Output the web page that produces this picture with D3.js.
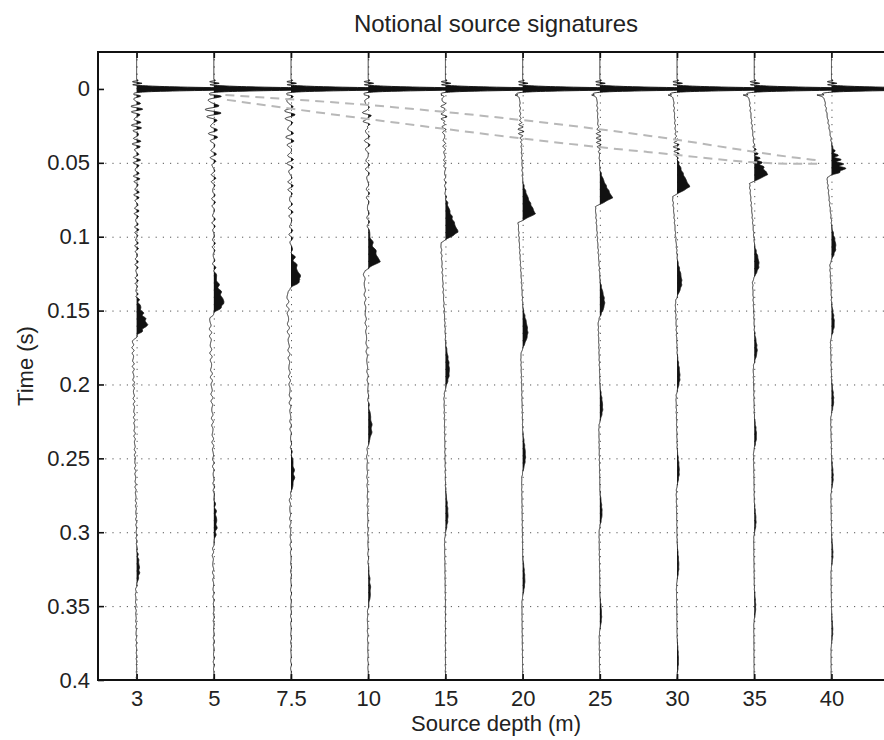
<!DOCTYPE html>
<html>
<head>
<meta charset="utf-8">
<script src="https://cdn.jsdelivr.net/npm/d3@7"></script>
<style>
  body { margin: 0; background: #fff; }
  svg text { font-family: "Liberation Sans", Arial, Helvetica, sans-serif; fill: #222; }
</style>
</head>
<body>
<div id="chart"></div>
<script>
// Source depths (m), one trace per depth
const depths = [3, 5, 7.5, 10, 15, 20, 25, 30, 35, 40];

// Bubble pulse arrival times (s)
const bubbleTimes = [
  [0.1595, 0.326],
  [0.1455, 0.295],
  [0.129, 0.262],
  [0.117, 0.230, 0.340],
  [0.097, 0.191, 0.289],
  [0.0845, 0.165, 0.249, 0.333],
  [0.0737, 0.145, 0.216, 0.287, 0.357],
  [0.0663, 0.131, 0.195, 0.259, 0.323, 0.387],
  [0.058, 0.119, 0.177, 0.235, 0.293, 0.351],
  [0.0548, 0.107, 0.159, 0.211, 0.263, 0.315, 0.367]
];
// Bubble pulse amplitudes, in units of trace spacing
const bubbleAmps = [
  [0.14, 0.035],
  [0.135, 0.035],
  [0.13, 0.04],
  [0.15, 0.045, 0.028],
  [0.165, 0.05, 0.032],
  [0.165, 0.065, 0.036, 0.028],
  [0.165, 0.06, 0.036, 0.028, 0.022],
  [0.165, 0.06, 0.036, 0.028, 0.022, 0.018],
  [0.175, 0.06, 0.036, 0.028, 0.022, 0.018],
  [0.165, 0.055, 0.036, 0.028, 0.022, 0.018, 0.016]
];
// first bubble rise / fall durations (s)
const riseTimes = [0.022, 0.028, 0.024, 0.024, 0.026, 0.023, 0.02, 0.021, 0.018, 0.019];
const fallTimes = [0.011, 0.009, 0.008, 0.006, 0.007, 0.006, 0.006, 0.0065, 0.006, 0.005];

// primary peak and what follows it
const primaryAmp = 1.6;
const postDip = [0.04, 0.06, 0.06, 0.06, 0.06, 0.08, 0.09, 0.09, 0.1, 0.12];
const drift = [0.0, 0.01, 0.02, 0.02, 0.03, 0.04, 0.04, 0.05, 0.07, 0.1];

// high-frequency ringing on the shallow traces
const ringAmp = [0.05, 0.1, 0.045, 0.035, 0.025, 0, 0, 0, 0, 0];
const ringDecay = [0.06, 0.02, 0.05, 0.04, 0.03, 0.03, 0.03, 0.03, 0.03, 0.03];
const ringTail = [0.012, 0.018, 0.014, 0.01, 0.005, 0.004, 0.004, 0.004, 0.004, 0.004];
const ringPeriod = [0.0043, 0.0055, 0.006, 0.0065, 0.0045, 0.004, 0.004, 0.004, 0.004, 0.004];

// small wiggle packets between the dashed lines
const ghostTimes = [0, 0, 0, 0.02, 0.018, 0.028, 0.034, 0.040, 0.046, 0.050];
const ghostAmps = [0, 0, 0, 0.02, 0.03, 0.035, 0.035, 0.04, 0.035, 0.04];

// gray dashed guide curves, [trace position, time]
const dashUpper = [[1.15, 0.0041], [3.3, 0.0122], [6.65, 0.0318], [8.55, 0.0466], [8.8, 0.0482]];
const dashLower = [[1.17, 0.0074], [3.28, 0.0223], [6.61, 0.0426], [8.55, 0.0507], [8.83, 0.0507]];

const timeTicks = [0, 0.05, 0.1, 0.15, 0.2, 0.25, 0.3, 0.35, 0.4];

const smooth = s => s * s * (3 - 2 * s);

// Build one trace from its events
function traceValue(k, t) {
  let v = 0;
  // precursor wiggle just before the primary
  if (t > -0.0065 && t < -0.0008) {
    v += 0.07 * Math.sin(2 * Math.PI * t / 0.0022) * Math.sin(Math.PI * (t + 0.0065) / 0.0057);
  }
  // primary
  v += primaryAmp * Math.exp(-t * t / (2 * 0.0009 * 0.0009));
  // dip after primary
  v -= postDip[k] * Math.exp(-Math.pow(t - 0.0032, 2) / (2 * 0.0012 * 0.0012));
  const times = bubbleTimes[k], amps = bubbleAmps[k];
  const onset1 = times[0] - riseTimes[k];
  if (t > 0.004 && t < onset1) {
    v -= drift[k] * (1 - (t - 0.004) / (onset1 - 0.004));
  }
  // bubbles
  times.forEach((tp, j) => {
    const a = amps[j];
    const rise = j === 0 ? riseTimes[k] : riseTimes[k] * 0.9;
    const fall = j === 0 ? fallTimes[k] : riseTimes[k] * 0.7;
    const t0 = tp - rise;
    const next = j + 1 < times.length ? times[j + 1] - riseTimes[k] * 0.9 : tp + 0.06;
    const trough = 0.35 * a;
    if (t >= t0 && t < tp) {
      const s = (t - t0) / rise;
      v += j === 0 ? a * Math.pow(s, 1.35) : a * smooth(s);
    } else if (t >= tp && t < tp + fall) {
      const s = (t - tp) / fall;
      v += a - (a + trough) * (j === 0 ? s : smooth(s));
    } else if (t >= tp + fall && t < next) {
      v -= trough * (1 - (t - tp - fall) / (next - tp - fall));
    }
  });
  // ringing
  if (t > 0.004) {
    const tau = t - 0.004;
    const w = 2 * Math.PI / ringPeriod[k];
    const env = ringAmp[k] * Math.exp(-tau / ringDecay[k]) + ringTail[k] * Math.exp(-tau / 0.3);
    v += env * (Math.sin(w * tau) + 0.45 * Math.sin(1.37 * w * tau + 1.1));
  }
  // ghost packet
  if (ghostAmps[k] > 0) {
    const d = t - ghostTimes[k];
    v += ghostAmps[k] * Math.exp(-d * d / (2 * 0.005 * 0.005)) * Math.sin(2 * Math.PI * d / 0.003);
  }
  return v;
}

const W = 884, H = 740;
const plot = { left: 98, right: 894, top: 52, bottom: 680 };

const svg = d3.select("#chart").append("svg")
  .attr("width", W)
  .attr("height", H);

const x = d3.scaleLinear().domain([-0.5, 9.81]).range([plot.left, plot.right]);
const y = d3.scaleLinear().domain([-0.025, 0.4]).range([plot.top, plot.bottom]);

svg.append("clipPath").attr("id", "clip")
  .append("rect")
  .attr("x", plot.left).attr("y", plot.top)
  .attr("width", plot.right - plot.left).attr("height", plot.bottom - plot.top);

// dotted grid
const grid = svg.append("g").attr("stroke", "#555").attr("stroke-width", 1).attr("stroke-dasharray", "1.2,6");
grid.selectAll(".hgrid").data(timeTicks.slice(1, -1)).enter().append("line")
  .attr("x1", plot.left).attr("x2", plot.right)
  .attr("y1", d => y(d) + 0.5).attr("y2", d => y(d) + 0.5);
grid.selectAll(".vgrid").data(depths).enter().append("line")
  .attr("x1", (d, i) => x(i) + 0.5).attr("x2", (d, i) => x(i) + 0.5)
  .attr("y1", plot.top).attr("y2", plot.bottom);

// traces
const samples = d3.range(-0.025, 0.4001, 0.0001);
const traces = svg.append("g").attr("clip-path", "url(#clip)");

depths.forEach((depth, k) => {
  const pts = samples.map(t => ({ t: t, v: traceValue(k, t) }));
  const area = d3.area()
    .x0(x(k))
    .x1(d => x(k + Math.max(0, d.v)))
    .y(d => y(d.t));
  const line = d3.line()
    .x(d => x(k + d.v))
    .y(d => y(d.t));
  traces.append("path").attr("d", area(pts)).attr("fill", "#111");
  traces.append("path").attr("d", line(pts))
    .attr("fill", "none").attr("stroke", "#111").attr("stroke-width", 0.9);
});

// dashed guides
const dashLine = d3.line().x(d => x(d[0])).y(d => y(d[1])).curve(d3.curveMonotoneX);
[dashUpper, dashLower].forEach(c => {
  traces.append("path").attr("d", dashLine(c))
    .attr("fill", "none").attr("stroke", "#b8b8b8")
    .attr("stroke-width", 2).attr("stroke-dasharray", "9,6");
});

// axes
const yAxis = svg.append("g")
  .attr("transform", `translate(${plot.left},0)`)
  .call(d3.axisLeft(y).tickValues(timeTicks)
    .tickFormat(d => String(+d.toFixed(2)))
    .tickSize(-6).tickSizeOuter(0).tickPadding(8));
yAxis.selectAll("text").style("font-size", "22px");

const xAxis = svg.append("g")
  .attr("transform", `translate(0,${plot.bottom})`)
  .call(d3.axisBottom(x).tickValues(d3.range(depths.length))
    .tickFormat(i => depths[i])
    .tickSize(-6).tickSizeOuter(0).tickPadding(10));
xAxis.selectAll("text").style("font-size", "22px");

svg.append("g")
  .attr("transform", `translate(0,${plot.top})`)
  .call(d3.axisTop(x).tickValues(d3.range(depths.length))
    .tickFormat("").tickSize(-6).tickSizeOuter(0));

svg.selectAll(".domain").remove();
svg.selectAll(".tick line").attr("stroke", "#111").attr("stroke-width", 1.6);

// axes box
svg.append("path")
  .attr("d", `M${plot.right},${plot.top}H${plot.left}V${plot.bottom}H${plot.right}`)
  .attr("fill", "none").attr("stroke", "#111").attr("stroke-width", 2);

// title and labels
svg.append("text")
  .attr("x", (plot.left + plot.right) / 2)
  .attr("y", 32)
  .attr("text-anchor", "middle")
  .style("font-size", "24px")
  .text("Notional source signatures");

svg.append("text")
  .attr("x", (plot.left + plot.right) / 2)
  .attr("y", 731)
  .attr("text-anchor", "middle")
  .style("font-size", "22px")
  .text("Source depth (m)");

svg.append("text")
  .attr("transform", "rotate(-90)")
  .attr("x", -(plot.top + plot.bottom) / 2)
  .attr("y", 33)
  .attr("text-anchor", "middle")
  .style("font-size", "22px")
  .text("Time (s)");
</script>
</body>
</html>
